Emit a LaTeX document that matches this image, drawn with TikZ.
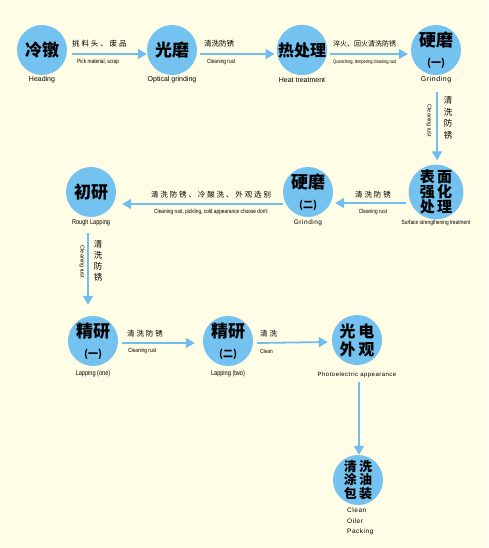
\documentclass[tikz,border=0pt]{standalone}
\usepackage{fontspec}
\setmainfont{Liberation Sans}
\newfontfamily\cjk{Noto Sans CJK SC}
\newfontfamily\cjks{Noto Sans CJK SC}[LetterSpace=25]
\newfontfamily\enn{Liberation Sans}[FakeStretch=0.8]
\newfontfamily\ensp{Liberation Sans}[LetterSpace=8]
\newcommand\subsz{\cjk\bfseries\fontsize{10}{10}\selectfont}
\usetikzlibrary{arrows.meta}
\definecolor{bgc}{RGB}{255,253,229}
\definecolor{ballc}{RGB}{116,194,240}
\definecolor{arrc}{RGB}{112,190,240}
\begin{document}
\begin{tikzpicture}[x=1pt,y=-1pt,
  bubble/.style={circle, fill=ballc, minimum size=50pt, inner sep=0pt, align=center,
    font=\cjk\bfseries\fontsize{17}{20}\selectfont},
  arr/.style={draw=arrc, line width=1.8pt, -{Triangle[length=9pt,width=10pt]}},
  captxt/.style={font=\fontsize{7}{8}\selectfont, inner sep=0pt},
  sm/.style={font=\enn\fontsize{6}{7}\selectfont, inner sep=0pt},
  rot/.style={font=\fontsize{5.5}{7}\selectfont, inner sep=0pt, rotate=-90},
  cn/.style={font=\cjk\fontsize{7.5}{9}\selectfont, inner sep=0pt},
  cns/.style={font=\cjks\fontsize{7.5}{9}\selectfont, inner sep=0pt},
  cnv/.style={font=\cjk\fontsize{8.5}{11.5}\selectfont, inner sep=0pt, align=center}
]
\useasboundingbox (0,0) rectangle (488,548);
\fill[bgc] (0,0) rectangle (488,548);

% circles
\node[bubble] (A) at (42,50) {冷镦};
\node[bubble] (B) at (172,50) {光磨};
\node[bubble, font=\cjk\bfseries\fontsize{16}{16}\selectfont] (C) at (302,50) {热处理};
\node[bubble] (D) at (436,50) {硬磨\\{\subsz (一)}};
\node[bubble, font=\cjk\bfseries\fontsize{15}{15}\selectfont] (E) at (436,192) {表\,面\\强\,化\\处\,理};
\node[bubble] (F) at (308,192) {硬磨\\{\subsz (二)}};
\node[bubble] (G) at (91,192) {初研};
\node[bubble] (H) at (93,341) {精研\\{\subsz (一)}};
\node[bubble] (I) at (228,341) {精研\\{\subsz (二)}};
\node[bubble, font=\cjk\bfseries\fontsize{16}{18}\selectfont] (J) at (357,340) {光\,电\\外\,观};
\node[bubble, font=\cjk\bfseries\fontsize{13}{13.5}\selectfont] (K) at (358,480) {清\,洗\\涂\,油\\包\,装};

% captions under circles
\node[captxt] (Al) at (42,80) {Heading};
\node[captxt] (Bl) at (172,80) {Optical grinding};
\node[captxt] (Cl) at (302,80) {Heat treatment};
\node[captxt, font=\ensp\fontsize{7}{8}\selectfont] (Dl) at (436,80) {Grinding};
\node[sm] (El) at (436,223) {Surface strengthening treatment};
\node[captxt, font=\ensp\fontsize{6.5}{8}\selectfont] (Fl) at (308,223) {Grinding};
\node[captxt, font=\enn\fontsize{7}{8}\selectfont] (Gl) at (91,223) {Rough Lapping};
\node[captxt, font=\enn\fontsize{7}{8}\selectfont] (Hl) at (93,374) {Lapping (one)};
\node[captxt, font=\enn\fontsize{7}{8}\selectfont] (Il) at (228,374) {Lapping (two)};
\node[captxt, font=\ensp\fontsize{6}{8}\selectfont] (Jl) at (357,375) {Photoelectric appearance};
\node[captxt, font=\ensp\fontsize{6.5}{10.5}\selectfont, align=left, anchor=north west] (Kl) at (347,508) {Clean\\Oiler\\Packing};

% connectors
\draw[arr] ([xshift=5pt,yshift=-4pt]A.east) -- ([yshift=-4pt]B.west);
\draw[arr] ([xshift=3pt,yshift=-4pt]B.east) -- ([xshift=-2pt,yshift=-4pt]C.west);
\draw[arr] ([xshift=3pt,yshift=-4pt]C.east) -- ([xshift=-3pt,yshift=-4pt]D.west);
\draw[arr] ([xshift=1pt,yshift=-17pt]D.south) -- ([xshift=1pt,yshift=4pt]E.north);
\draw[arr] ([xshift=-2pt,yshift=-11pt]E.west) -- ([xshift=2pt,yshift=-11pt]F.east);
\draw[arr] ([yshift=-12pt]F.west) -- ([xshift=6pt,yshift=-12pt]G.east);
\draw[arr] ([xshift=-3pt,yshift=-16pt]G.south) -- ([xshift=-5pt,yshift=11pt]H.north);
\draw[arr] ([xshift=4pt,yshift=-2pt]H.east) -- ([xshift=-8pt,yshift=-2pt]I.west);
\draw[arr] ([xshift=4pt,yshift=-2pt]I.east) -- ([xshift=-4pt,yshift=-2pt]J.west);
\draw[arr] ([xshift=2pt,yshift=-17pt]J.south) -- ([xshift=1pt]K.north);

% connector labels
\node[cns, anchor=west] (t1) at (72,44) {挑料头、废品};
\node[sm, anchor=west] (e1) at (77,62) {Pick material, scrap};
\node[cn, anchor=west] (t2) at (204,44) {清洗防锈};
\node[sm, anchor=west] (e2) at (207,62) {Cleaning rust};
\node[cn, font=\cjk\fontsize{7}{9}\selectfont, anchor=west] (t3) at (333,44) {淬火、回火清洗防锈};
\node[sm, font=\enn\fontsize{5}{6}\selectfont, anchor=west] (e3) at (333,62) {Quenching, tempering cleaning rust};
\node[cnv] (t4) at (448,118) {清\\洗\\防\\锈};
\node[rot] (e4) at (429,121) {Cleaning rust};
\node[cnv, font=\cjk\fontsize{8.5}{11}\selectfont] (t7) at (98,261) {清\\洗\\防\\锈};
\node[rot] (e7) at (82,262) {Cleaning rust};
\node[cns] (t5) at (373,195) {清洗防锈};
\node[sm] (e5) at (373,212) {Cleaning rust};
\node[cns] (t6) at (211,195) {清洗防锈、冷酸洗、外观选别};
\node[sm] (e6) at (211,212) {Cleaning rust, pickling, cold appearance choose don't};
\node[cns, anchor=west] (t8) at (127,334) {清洗防锈};
\node[sm, anchor=west] (e8) at (128,351) {Cleaning rust};
\node[cns, anchor=west] (t9) at (260,334) {清洗};
\node[sm, anchor=west] (e9) at (260,351) {Clean};
\end{tikzpicture}
\end{document}
